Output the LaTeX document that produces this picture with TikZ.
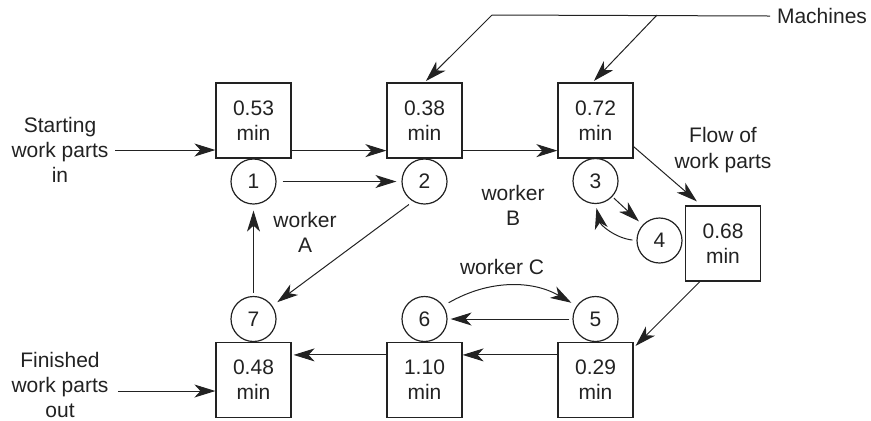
\documentclass[tikz,border=0pt]{standalone}
\usepackage{fontspec}
\setmainfont{Liberation Sans}
\usetikzlibrary{
arrows.meta,
positioning,
calc
}
\definecolor{Ink}{HTML}{222222}

\begin{document}
\begin{tikzpicture}[x=0.5pt,y=-0.5pt,>={Stealth[length=10.5pt,width=6.5pt,inset=3pt]},every node/.style={font=\fontsize{10.5}{12.6}\selectfont, align=center, text=Ink},
    machine/.style={draw=Ink, line width=0.6pt, minimum width=37.5pt, minimum height=37.5pt, inner sep=0pt},
    station/.style={draw=Ink, line width=0.6pt, circle, minimum size=22.5pt, inner sep=0pt},
    flow/.style={->, draw=Ink, line width=0.5pt}]
        \useasboundingbox (0,0) rectangle (871,420);
        \node[machine] (b1) at (253.5,120.5) {0.53\\min};
        \node[machine] (b2) at (424.5,120.5) {0.38\\min};
        \node[machine] (b3) at (595.5,120.5) {0.72\\min};
        \node[machine] (b4) at (723,243.5) {0.68\\min};
        \node[machine] (b5) at (595.5,380) {0.29\\min};
        \node[machine] (b6) at (424.5,380) {1.10\\min};
        \node[machine] (b7) at (253.5,380) {0.48\\min};
        \node[station] (c1) at (253.5,181.5) {1};
        \node[station] (c2) at (424.5,181.5) {2};
        \node[station] (c3) at (595.5,181) {3};
        \node[station] (c4) at (659.5,240.5) {4};
        \node[station] (c5) at (595.5,319) {5};
        \node[station] (c6) at (424.5,319) {6};
        \node[station] (c7) at (253.5,319) {7};
        \node (start) at (60,150) {Starting\\work parts\\in};
        \node[inner sep=1.5pt] (finish) at (60,385) {Finished\\work parts\\out};
        \node (mach) at (822,16) {Machines};
        \node (flowtxt) at (723,150) {Flow of\\work parts};
        \node (wA) at (305,232) {worker\\A};
        \node (wB) at (513,205) {worker\\B};
        \node (wC) at (502,267) {worker C};
        \coordinate (m1) at (492,15);
        \coordinate (m2) at (657,15);
        \draw[draw=Ink, line width=0.5pt] (mach.west) -- (m1);
        \draw[flow, shorten >=1pt] (m1) -- (b2.north);
        \draw[flow, shorten >=1pt] (m2) -- ([xshift=-1.5pt]b3.north);
        \draw[flow] (start.east) -- (start.east -| b1.west);
        \draw[flow] ([yshift=4pt]b1.south east) -- ([yshift=4pt]b2.south west);
        \draw[flow] ([yshift=4pt]b2.south east) -- ([yshift=4pt]b3.south west);
        \draw[flow] ([yshift=6pt]b3.south east) -- ([xshift=6pt,yshift=2pt]b4.north west);
        \draw[flow] ([xshift=7.5pt]b4.south west) -- ([xshift=1pt,yshift=-2pt]b5.north east);
        \draw[flow] ([yshift=-6.5pt]b5.north west) -- ([yshift=-6.5pt]b6.north east);
        \draw[flow] ([yshift=-6.5pt]b6.north west) -- ([xshift=1pt,yshift=-6.5pt]b7.north east);
        \draw[flow, shorten <=3pt] ([yshift=-3pt]finish.east) -- ([yshift=-3pt]finish.east -| b7.west);
        \draw[flow, shorten <=3pt, shorten >=2.5pt] (c1) -- (c2);
        \draw[flow, shorten <=2.5pt, shorten >=3pt] (c2.240) -- (c7.35);
        \draw[flow, shorten <=1.5pt, shorten >=3pt] (c7) -- (c1);
        \draw[flow, shorten <=1pt, shorten >=2.5pt] (c3) -- (c4);
        \draw[flow, shorten <=2pt, shorten >=2pt] (c4.west) to[bend left=35] (c3.south);
        \draw[flow, shorten <=1.5pt, shorten >=1.5pt] (c5) -- (c6);
        \draw[flow, shorten <=3pt, shorten >=3pt] (c6.35) to[bend left=30] (c5.145);
    \end{tikzpicture}
\end{document}
